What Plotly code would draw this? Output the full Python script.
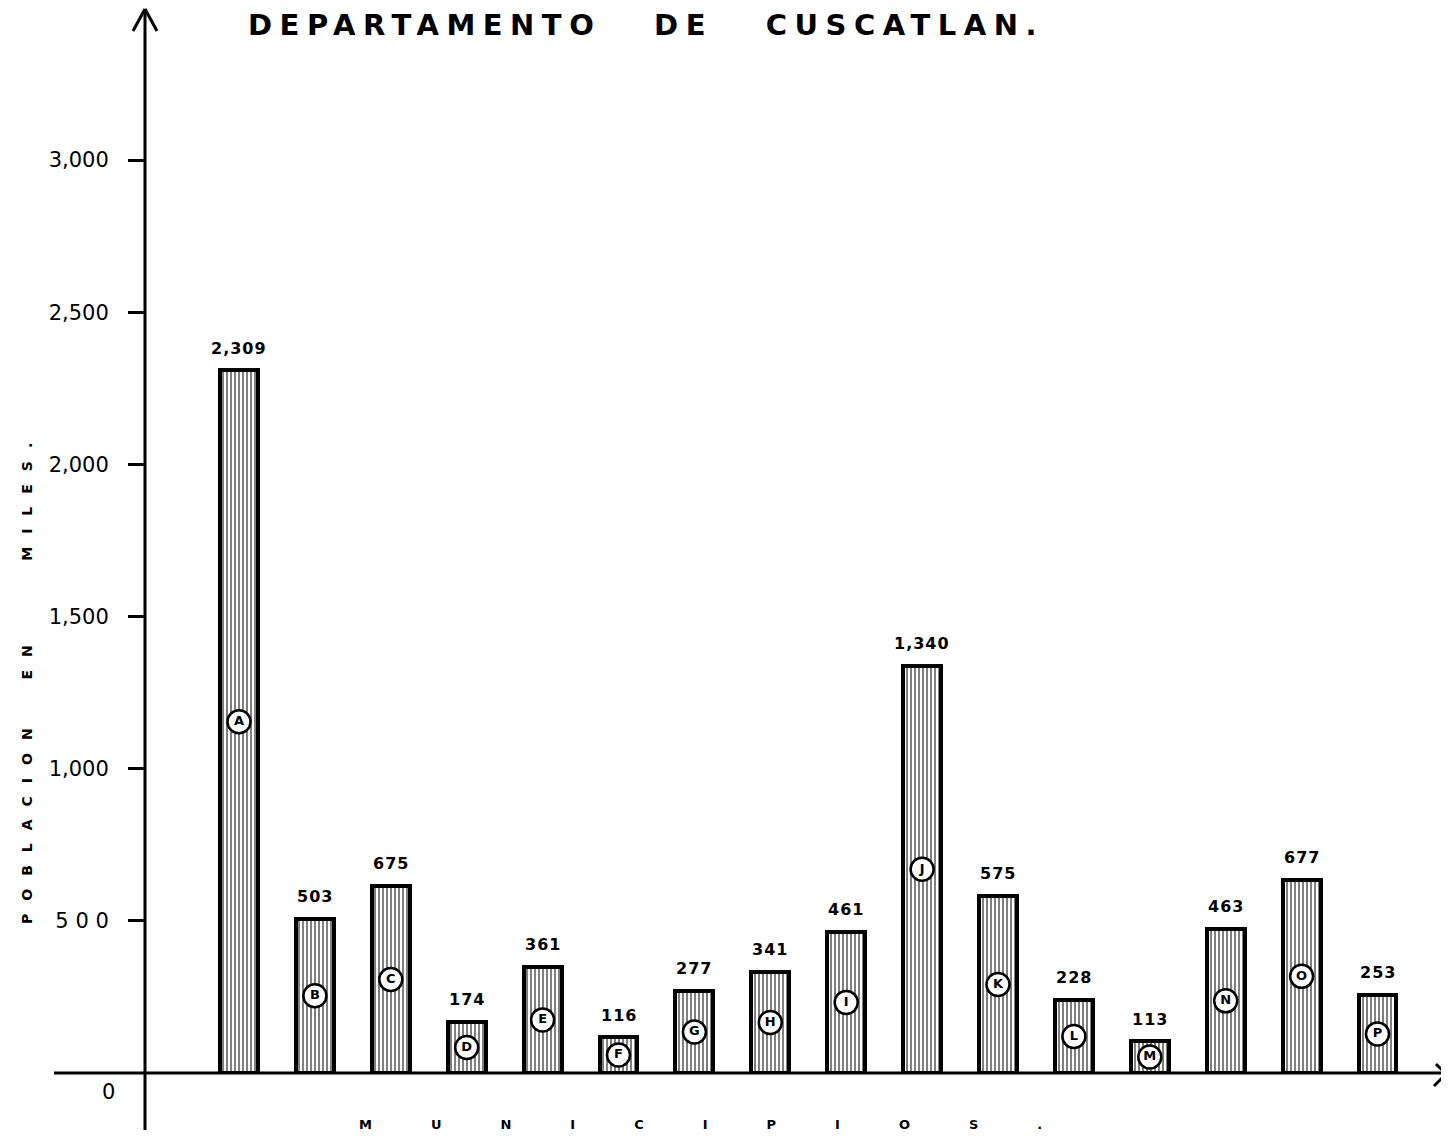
import plotly.graph_objects as go

# ---- data ----
municipios = list("ABCDEFGHIJKLMNOP")
# bar heights as drawn (thousands)
alturas = [2309, 507, 615, 168, 349, 118, 270, 332, 464, 1339, 582, 240, 105, 474, 635, 257]
# value labels as printed above each bar
etiquetas = ["2,309", "503", "675", "174", "361", "116", "277", "341",
             "461", "1,340", "575", "228", "113", "463", "677", "253"]
tick_vals = [500, 1000, 1500, 2000, 2500, 3000]
tick_text = ["5 0 0", "1,000", "1,500", "2,000", "2,500", "3,000"]

OFF = 8                      # page body margin
W, H = 1449 - OFF, 1137 - OFF
L, R, T, B = 145 - OFF, 0, 0, 64
PW, PH = W - L - R, H - T - B
SCALE = 913 / 3000           # pixels per thousand


def px(x):
    return (x - OFF - L) / PW


def py(y):
    return (H - B + OFF - y) / PH


fig = go.Figure()

fig.add_trace(go.Bar(
    x=municipios, y=alturas, width=0.5,
    marker=dict(color="white",
                line=dict(color="black", width=4),
                pattern=dict(shape="|", fgcolor="black", bgcolor="white",
                             size=4, solidity=0.5)),
    hoverinfo="skip", showlegend=False,
))

fig.add_trace(go.Scatter(
    x=municipios, y=[h * 0.5 for h in alturas],
    mode="markers+text", text=[f"<b>{m}</b>" for m in municipios],
    textposition="middle center",
    textfont=dict(family="DejaVu Sans", size=13, color="black"),
    marker=dict(size=23, color="white", line=dict(color="black", width=2.5)),
    hoverinfo="skip", showlegend=False, cliponaxis=False,
))

for m, h, t in zip(municipios, alturas, etiquetas):
    fig.add_annotation(x=m, y=h, text=f'<b><span style="letter-spacing:1px">{t}</span></b>',
                       showarrow=False, yshift=22, yanchor="middle",
                       font=dict(family="DejaVu Sans", size=16, color="black"))

line = dict(color="black", width=3)
shapes = [
    # y axis with open arrow
    dict(type="line", xref="paper", yref="paper", x0=px(145), x1=px(145), y0=py(1130), y1=py(9), line=line),
    dict(type="line", xref="paper", yref="paper", x0=px(133), x1=px(145), y0=py(31), y1=py(9), line=line),
    dict(type="line", xref="paper", yref="paper", x0=px(157), x1=px(145), y0=py(31), y1=py(9), line=line),
    # x axis with open arrow
    dict(type="line", xref="paper", yref="paper", x0=px(54), x1=px(1446), y0=py(1073), y1=py(1073), line=line),
    dict(type="line", xref="paper", yref="paper", x0=px(1436), x1=px(1446), y0=py(1064), y1=py(1074), line=line),
    dict(type="line", xref="paper", yref="paper", x0=px(1434), x1=px(1446), y0=py(1086), y1=py(1074), line=line),
]

fig.add_annotation(xref="paper", yref="paper", x=px(646), y=py(25),
                   text='<b><span style="letter-spacing:7.5px">DEPARTAMENTO&nbsp;&nbsp;&nbsp;DE&nbsp;&nbsp;&nbsp;CUSCATLAN.</span></b>',
                   showarrow=False, xanchor="center", yanchor="middle",
                   font=dict(family="DejaVu Sans", size=29, color="black"))

fig.add_annotation(xref="paper", yref="paper", x=px(27), y=py(677),
                   text='<b><span style="letter-spacing:13px">POBLACION&nbsp;&nbsp;EN&nbsp;&nbsp;&nbsp;&nbsp;MILES.</span></b>',
                   textangle=-90, showarrow=False, xanchor="center", yanchor="middle",
                   font=dict(family="DejaVu Sans", size=14, color="black"))

fig.add_annotation(xref="paper", yref="paper", x=px(730), y=py(1124),
                   text='<b><span style="letter-spacing:59px">MUNICIPIOS.</span></b>',
                   showarrow=False, xanchor="center", yanchor="middle",
                   font=dict(family="DejaVu Sans", size=13, color="black"))

fig.add_annotation(xref="paper", yref="paper", x=px(108), y=py(1092),
                   text="0", showarrow=False, xanchor="center", yanchor="middle",
                   font=dict(family="DejaVu Sans", size=21, color="black"))

fig.update_layout(
    width=W, height=H,
    margin=dict(l=L, r=R, t=T, b=B, pad=0),
    paper_bgcolor="white", plot_bgcolor="white",
    shapes=shapes, bargap=0,
    xaxis=dict(type="category", range=[-94 / 75.9, (PW - 94) / 75.9],
               showticklabels=False, ticks="", showgrid=False,
               zeroline=False, showline=False),
    yaxis=dict(range=[0, PH / SCALE], tickvals=tick_vals, ticktext=tick_text,
               ticks="outside", ticklen=16, tickwidth=2.5, tickcolor="black",
               ticklabelstandoff=15,
               tickfont=dict(family="DejaVu Sans", size=21, color="black"),
               showgrid=False, zeroline=False, showline=False),
)

fig.write_html("out.html")
